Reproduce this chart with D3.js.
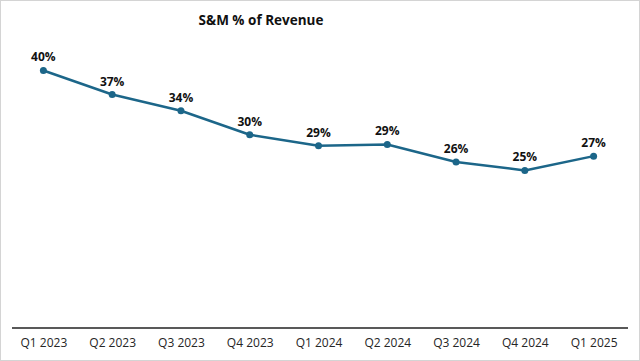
<!DOCTYPE html>
<html>
<head>
<meta charset="utf-8">
<script src="https://cdn.jsdelivr.net/npm/d3@7"></script>
<style>
  html, body { margin: 0; padding: 0; background: #fff; }
  svg { display: block; font-family: "Open Sans", sans-serif; }
  .tick text { font-family: "Open Sans", sans-serif; font-size: 12px; fill: #262626; }
  .data-label { font-size: 12px; font-weight: 700; fill: #111; }
</style>
</head>
<body>
<svg id="chart"></svg>
<script>
// Chart data
const quarters = ["Q1 2023", "Q2 2023", "Q3 2023", "Q4 2023", "Q1 2024", "Q2 2024", "Q3 2024", "Q4 2024", "Q1 2025"];
const smPct = [40.3, 36.6, 34.1, 30.4, 28.7, 28.9, 26.2, 24.9, 27.1];
const chartTitle = "S&M % of Revenue";

const width = 640;
const height = 361;
const lineColor = "#1c6689";

const svg = d3.select("#chart").attr("width", width).attr("height", height);

// Outer border
svg.append("rect")
  .attr("x", 0.5).attr("y", 0.5)
  .attr("width", width - 1).attr("height", height - 1)
  .attr("fill", "#fff")
  .attr("stroke", "#d4d4d4");

// Title
svg.append("text")
  .attr("x", 261)
  .attr("y", 25)
  .attr("text-anchor", "middle")
  .style("font-size", "13.5px")
  .style("font-weight", 700)
  .attr("fill", "#111")
  .text(chartTitle);

/**
 * Scales
 */
const x = d3.scalePoint().domain(quarters).range([9, 628]).padding(0.5);
const y = d3.scaleLinear().domain([0, 45]).range([332, 40]);
const axisY = 328;

// X axis
const xAxis = svg.append("g")
  .attr("transform", "translate(0," + axisY + ")")
  .call(d3.axisBottom(x).tickSize(0).tickPadding(10));

xAxis.select(".domain")
  .attr("d", "M12,0H628")
  .attr("stroke", "#595959")
  .attr("stroke-width", 2);

// Line
const line = d3.line()
  .x((d, i) => x(quarters[i]))
  .y(d => y(d));

svg.append("path")
  .datum(smPct)
  .attr("fill", "none")
  .attr("stroke", lineColor)
  .attr("stroke-width", 2.5)
  .attr("stroke-linejoin", "round")
  .attr("d", line);

// Markers
svg.selectAll(".marker")
  .data(smPct)
  .enter()
  .append("circle")
  .attr("class", "marker")
  .attr("cx", (d, i) => x(quarters[i]))
  .attr("cy", d => y(d))
  .attr("r", 3.5)
  .attr("fill", lineColor);

// Data labels
svg.selectAll(".data-label")
  .data(smPct)
  .enter()
  .append("text")
  .attr("class", "data-label")
  .attr("x", (d, i) => x(quarters[i]))
  .attr("y", d => y(d) - 9)
  .attr("text-anchor", "middle")
  .text(d => Math.round(d) + "%");
</script>
</body>
</html>
